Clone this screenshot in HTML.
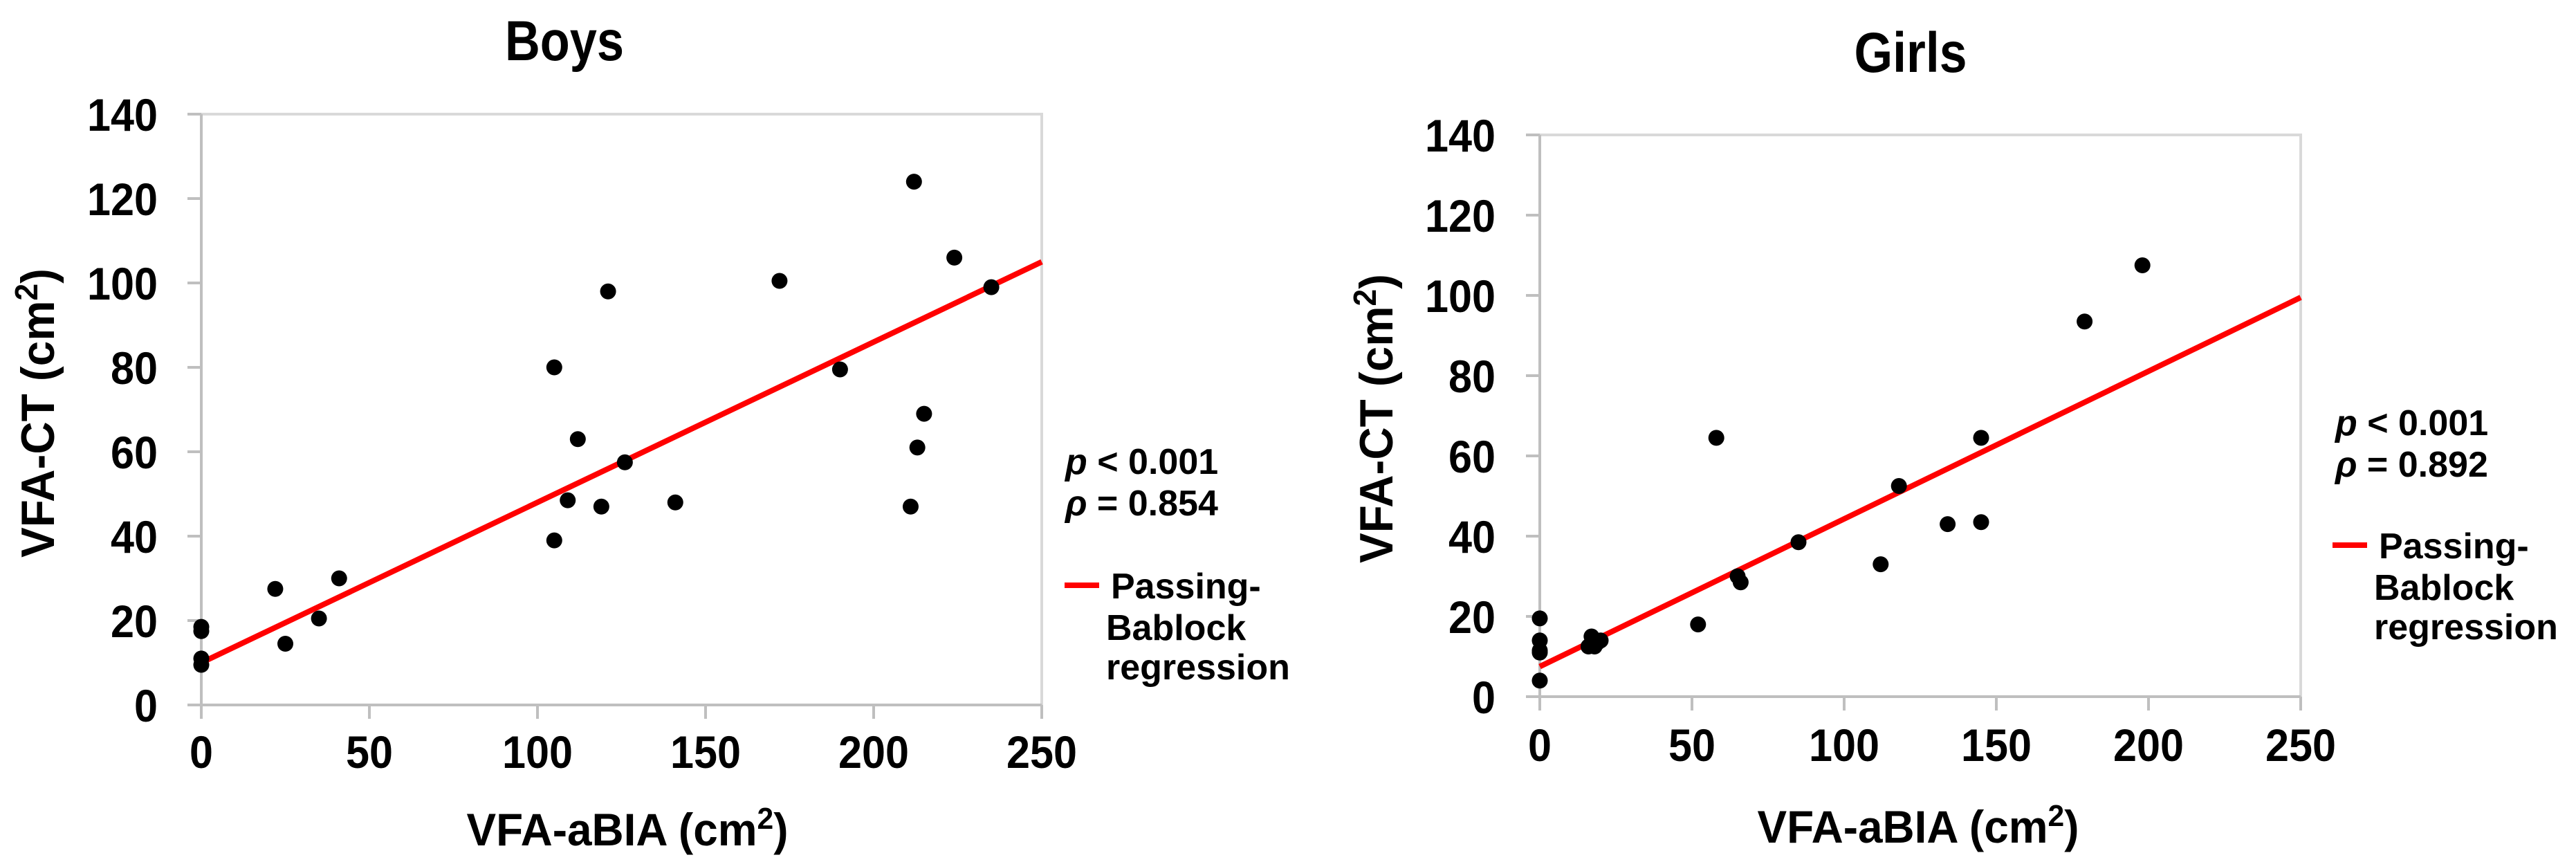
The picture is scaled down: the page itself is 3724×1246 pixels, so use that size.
<!DOCTYPE html>
<html><head><meta charset="utf-8"><style>
html,body{margin:0;padding:0;background:#fff;}
svg{display:block;font-family:"Liberation Sans",sans-serif;}
</style></head><body>
<svg id="chart" width="3724" height="1246" viewBox="0 0 3724 1246" xmlns="http://www.w3.org/2000/svg"></svg>
<script>
const boysX=[0,0,0,0,22,25,35,41,105,105,109,112,119,121,126,141,172,190,211,212,213,215,224,235];
const boysY=[18.5,17.5,11,9.5,27.5,14.5,20.5,30,39,80,48.5,63,47,98,57.5,48,100.5,79.5,47,124,61,69,106,99];
const boysReg=[10,105];
const girlsX=[0,0,0,0,0,16,17,18,19,20,52,58,65,66,85,112,118,134,145,145,179,198];
const girlsY=[19.5,14,11.5,11,4,12.5,15,12.5,13.5,14,18,64.5,30,28.5,38.5,33,52.5,43,43.5,64.5,93.5,107.5];
const girlsReg=[7.5,99.5];
const xTicks=[0,50,100,150,200,250];
const yTicks=[0,20,40,60,80,100,120,140];
const xMax=250, yMax=140;

const svg=document.getElementById('chart');
const NS='http://www.w3.org/2000/svg';
function mk(tag,attrs,parent){const e=document.createElementNS(NS,tag);for(const k in attrs)e.setAttribute(k,attrs[k]);(parent||svg).appendChild(e);return e;}
function txt(s,attrs,parent){const e=mk('text',attrs,parent);e.textContent=s;return e;}

function panel(cfg){
  const g=mk('g',{});
  
  
  const sx=v=>cfg.x0+(cfg.x1-cfg.x0)*v/xMax;
  const sy=v=>cfg.y0-(cfg.y0-cfg.y1)*v/yMax;
  // frame
  const fr=mk('rect',{x:sx(0),y:sy(yMax),width:sx(xMax)-sx(0),height:sy(0)-sy(yMax),fill:'none',stroke:'#d9d9d9','stroke-width':4},g);
  
  
  // axes
  const xa=mk('line',{x1:sx(0)-20,y1:sy(0),x2:sx(xMax),y2:sy(0),stroke:'#bfbfbf','stroke-width':4},g);
  
  
  const ya=mk('line',{x1:sx(0),y1:sy(yMax),x2:sx(0),y2:sy(0)+20,stroke:'#bfbfbf','stroke-width':4},g);
  
  
  xTicks.forEach(t=>{
    const l=mk('line',{x1:sx(t),y1:sy(0),x2:sx(t),y2:sy(0)+20,stroke:'#bfbfbf','stroke-width':4},g);
    
    
    const s=String(t);
    const tx=txt(s,{x:sx(t),y:cfg.xTickBase,'text-anchor':'middle','font-size':66,'font-weight':'bold',textLength:s.length*34,lengthAdjust:'spacingAndGlyphs'},g);
    
    
  });
  yTicks.forEach(t=>{
    const l=mk('line',{x1:sx(0)-20,y1:sy(t),x2:sx(0),y2:sy(t),stroke:'#bfbfbf','stroke-width':4},g);
    
    
    const s=String(t);
    const tx=txt(s,{x:cfg.yTickRight,y:sy(t)+24,'text-anchor':'end','font-size':66,'font-weight':'bold',textLength:s.length*34,lengthAdjust:'spacingAndGlyphs'},g);
    
    
  });
  // regression line
  const rl=mk('line',{x1:sx(0),y1:sy(cfg.reg[0]),x2:sx(xMax),y2:sy(cfg.reg[1]),stroke:'#ff0000','stroke-width':8},g);
  
  
  // points
  cfg.xs.forEach((v,i)=>{
    const c=mk('circle',{cx:sx(v),cy:sy(cfg.ys[i]),r:11.5,fill:'#000'},g);
    
    
  });
  // title
  const tt=txt(cfg.title,{x:cfg.titleX,y:cfg.titleY,'text-anchor':'middle','font-size':82,'font-weight':'bold',textLength:cfg.titleW,lengthAdjust:'spacingAndGlyphs'},g);
  
  
  // x label
  const xl=txt('',{x:cfg.xLabX,y:cfg.xLabY,'text-anchor':'middle','font-size':66,'font-weight':'bold',textLength:465,lengthAdjust:'spacingAndGlyphs'},g);
  xl.innerHTML='VFA-aBIA (cm<tspan font-size="44" dy="-24">2</tspan><tspan dy="24">)</tspan>';
  
  
  // y label
  const yl=txt('',{x:0,y:0,'text-anchor':'middle','font-size':68,'font-weight':'bold',textLength:418,lengthAdjust:'spacingAndGlyphs',transform:`translate(${cfg.yLabX},${cfg.yLabY}) rotate(-90)`},g);
  yl.innerHTML='VFA-CT (cm<tspan font-size="46" dy="-24">2</tspan><tspan dy="24">)</tspan>';
  
  
  // stats
  const st=txt('',{x:cfg.statX,y:cfg.statY,'font-size':52,'font-weight':'bold'},g);
  st.innerHTML='<tspan font-style="italic">p</tspan> &lt; 0.001';
  
  
  const st2=txt('',{x:cfg.statX,y:cfg.statY+60,'font-size':52,'font-weight':'bold'},g);
  st2.innerHTML='<tspan font-style="italic">ρ</tspan> = '+cfg.rho;
  
  
  // legend
  const lg=mk('g',{},g);
  
  
  mk('line',{x1:cfg.legX,y1:cfg.legY,x2:cfg.legX+50,y2:cfg.legY,stroke:'#ff0000','stroke-width':8},lg);
  txt('Passing-',{x:cfg.legX+67,y:cfg.legY+19,'font-size':52,'font-weight':'bold'},lg);
  txt('Bablock',{x:cfg.legX+60,y:cfg.legY+79,'font-size':52,'font-weight':'bold'},lg);
  txt('regression',{x:cfg.legX+60,y:cfg.legY+136,'font-size':52,'font-weight':'bold'},lg);
}

panel({name:'boys',x0:291,x1:1506,y0:1019,y1:165,xs:boysX,ys:boysY,reg:boysReg,title:'Boys',titleX:816,titleY:87,titleW:172,
  xTickBase:1110,yTickRight:228,xLabX:907,xLabY:1222,yLabX:78,yLabY:597,statX:1540,statY:685,rho:'0.854',legX:1539,legY:846});
panel({name:'girls',x0:2226,x1:3326,y0:1007,y1:195,xs:girlsX,ys:girlsY,reg:girlsReg,title:'Girls',titleX:2762,titleY:104,titleW:163,
  xTickBase:1100,yTickRight:2162,xLabX:2773,xLabY:1218,yLabX:2013,yLabY:605,statX:3376,statY:629,rho:'0.892',legX:3372,legY:788});
</script>
</body></html>
